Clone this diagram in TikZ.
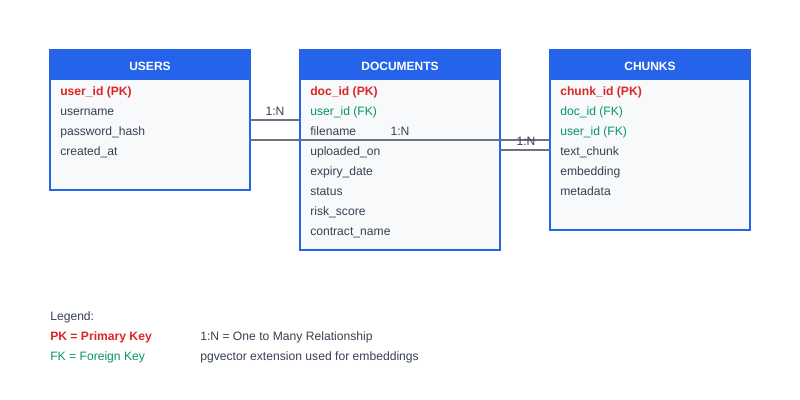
\documentclass[tikz,border=0pt]{standalone}
\usepackage{fontspec}
\setmainfont{Liberation Sans}
\definecolor{hdrblue}{HTML}{2563EB}
\definecolor{bodyfill}{HTML}{F8F9FB}
\definecolor{pkred}{HTML}{DC2626}
\definecolor{fkgreen}{HTML}{059669}
\definecolor{txtgray}{HTML}{374151}
\definecolor{linegray}{HTML}{6B7280}
\tikzset{
  tbl/.style={rectangle, inner sep=0pt, outer sep=0pt, fill=bodyfill, minimum width=150pt, anchor=north west},
  hdrtext/.style={inner sep=0pt, anchor=base, text=white, font=\fontsize{9pt}{11pt}\selectfont\bfseries},
  field/.style={inner sep=0pt, anchor=base west, text=txtgray, font=\fontsize{9.1pt}{11pt}\selectfont},
  pk/.style={field, text=pkred, font=\fontsize{9.1pt}{11pt}\selectfont\bfseries},
  fk/.style={field, text=fkgreen},
  rel/.style={draw=linegray, line width=1.5pt},
  rellabel/.style={inner sep=0pt, anchor=base, text=txtgray, font=\fontsize{9.1pt}{11pt}\selectfont},
  border/.style={draw=hdrblue, line width=1.5pt},
}
\begin{document}
\begin{tikzpicture}[x=0.75pt,y=-0.75pt]
\useasboundingbox[fill=white] (0,0) rectangle (800,400);
% tables
\node[tbl, minimum height=105pt] (users) at (50,50) {};
\node[tbl, minimum height=150pt] (docs) at (300,50) {};
\node[tbl, minimum height=135pt] (chunks) at (550,50) {};
\foreach \t in {users,docs,chunks}{
  \fill[hdrblue] (\t.north west) rectangle ([yshift=-22.5pt]\t.north east);
  \draw[border] (\t.north west) rectangle (\t.south east);
}
\node[hdrtext] (usersh) at (150,70.3) {USERS};
\node[hdrtext] (docsh) at (400,70.3) {DOCUMENTS};
\node[hdrtext] (chunksh) at (650,70.3) {CHUNKS};
% users fields
\node[pk] (u1) at (60,95.3) {user\_id (PK)};
\node[field] (u2) at (60,115.3) {username};
\node[field] (u3) at (60,135.3) {password\_hash};
\node[field] (u4) at (60,155.3) {created\_at};
% documents fields
\node[pk] (d1) at (310,95.3) {doc\_id (PK)};
\node[fk] (d2) at (310,115.3) {user\_id (FK)};
\node[field] (d3) at (310,135.3) {filename};
\node[field] (d4) at (310,155.3) {uploaded\_on};
\node[field] (d5) at (310,175.3) {expiry\_date};
\node[field] (d6) at (310,195.3) {status};
\node[field] (d7) at (310,215.3) {risk\_score};
\node[field] (d8) at (310,235.3) {contract\_name};
% chunks fields
\node[pk] (c1) at (560,95.3) {chunk\_id (PK)};
\node[fk] (c2) at (560,115.3) {doc\_id (FK)};
\node[fk] (c3) at (560,135.3) {user\_id (FK)};
\node[field] (c4) at (560,155.3) {text\_chunk};
\node[field] (c5) at (560,175.3) {embedding};
\node[field] (c6) at (560,195.3) {metadata};
% relationships
\draw[rel] (users.east |- 0,120) -- (docs.west |- 0,120);
\draw[rel] (users.east |- 0,140) -- (chunks.west |- 0,140);
\draw[rel] (docs.east |- 0,150) -- (chunks.west |- 0,150);
\node[rellabel] (r1) at (275,115.3) {1:N};
\node[rellabel] (r2) at (400,135.3) {1:N};
\node[rellabel] (r3) at (526,145.3) {1:N};
% legend
\node[field] (lg) at (50,320) {Legend:};
\node[pk] (lpk) at (50,340.3) {PK = Primary Key};
\node[fk] (lfk) at (50,360.3) {FK = Foreign Key};
\node[field] (l1n) at (200,340.3) {1:N = One to Many Relationship};
\node[field] (lpg) at (200,360.3) {pgvector extension used for embeddings};
\end{tikzpicture}
\end{document}
